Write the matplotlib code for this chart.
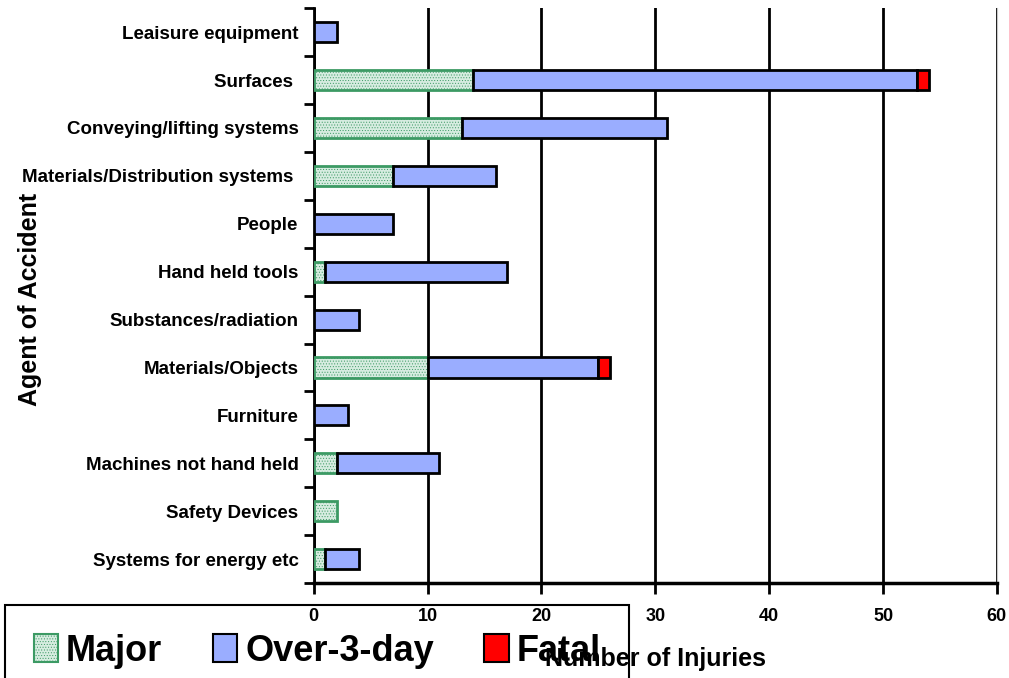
import numpy as np
import matplotlib
matplotlib.use('Agg')
import matplotlib.pyplot as plt
from matplotlib.patches import Patch

# DATA (top to bottom as shown)
agents = ['Leaisure equipment', 'Surfaces ', 'Conveying/lifting systems',
          'Materials/Distribution systems ', 'People', 'Hand held tools',
          'Substances/radiation', 'Materials/Objects', 'Furniture',
          'Machines not hand held', 'Safety Devices', 'Systems for energy etc']
major = [0, 14, 13, 7, 0, 1, 0, 10, 0, 2, 2, 1]
over3 = [2, 39, 18, 9, 7, 16, 4, 15, 3, 9, 0, 3]
fatal = [0, 1, 0, 0, 0, 0, 0, 1, 0, 0, 0, 0]
xticks = [0, 10, 20, 30, 40, 50, 60]

narrow = ['Liberation Sans Narrow', 'Liberation Sans', 'DejaVu Sans']
plt.rcParams['font.family'] = ['Liberation Sans', 'DejaVu Sans']
plt.rcParams['hatch.linewidth'] = 0.4

fig = plt.figure(figsize=(10.09, 6.78), dpi=100)
ax = fig.add_axes([0.311, 0.140, 0.677, 0.848])

n = len(agents)
y = np.arange(n)[::-1]
h = 0.42
major = np.array(major)
over3 = np.array(over3)
fatal = np.array(fatal)

# COLOURS
c_major, e_major = '#d6ece0', '#3c9a64'
c_over, c_fatal = '#9aadff', '#ff0000'

ax.barh(y, major, height=h, color=c_major, edgecolor=e_major, linewidth=2,
        hatch='......', zorder=3)
ax.barh(y, over3, left=major, height=h, color=c_over, edgecolor='black',
        linewidth=2, zorder=3)
ax.barh(y, fatal, left=major + over3, height=h, color=c_fatal,
        edgecolor='black', linewidth=2, zorder=3)
# hide zero-width outlines
for cont in ax.containers:
    for p in cont.patches:
        if p.get_width() == 0:
            p.set_visible(False)

ax.set_xlim(0, 60)
ax.set_ylim(-0.5, n - 0.5)
ax.set_xticks(xticks)
ax.set_xticklabels([str(t) for t in xticks], fontsize=13, fontweight='bold',
                   family=narrow)
ax.tick_params(axis='x', direction='out', length=8, width=2, pad=10)
ax.set_yticks(y)
ax.set_yticklabels(agents, fontsize=13.5, fontweight='bold')
ax.tick_params(axis='y', which='major', length=0, pad=11)
ax.set_yticks(np.arange(n + 1) - 0.5, minor=True)
ax.tick_params(axis='y', which='minor', length=7, width=2, direction='out')

ax.grid(axis='x', color='black', linewidth=2, zorder=0)
ax.spines['top'].set_visible(False)
ax.spines['right'].set_color('#c8c8c8')
ax.spines['left'].set_linewidth(2)
ax.spines['bottom'].set_linewidth(2.5)

ax.set_xlabel('Number of Injuries', fontsize=18, fontweight='bold',
              family=narrow)
ax.xaxis.set_label_coords(0.5, -0.112)
fig.text(0.03, 0.558, 'Agent of Accident', rotation=90, fontsize=18,
         fontweight='bold', ha='center', va='center')

handles = [Patch(facecolor=c_major, edgecolor=e_major, hatch='......', lw=1.5),
           Patch(facecolor=c_over, edgecolor='black', lw=1.5),
           Patch(facecolor=c_fatal, edgecolor='black', lw=1.5)]
leg = ax.legend(handles, ['Major', 'Over-3-day', 'Fatal'], ncol=3,
                loc='upper left', bbox_to_anchor=(0.005, 0.108),
                bbox_transform=fig.transFigure, borderaxespad=0,
                prop={'size': 26, 'weight': 'bold'}, frameon=True,
                fancybox=False, edgecolor='black', handlelength=0.67,
                handleheight=0.83, handletextpad=0.22, columnspacing=1.4,
                borderpad=0.8, framealpha=1)
leg.get_frame().set_linewidth(1.5)
leg.set_zorder(1)

fig.savefig('out.png', dpi=100)
